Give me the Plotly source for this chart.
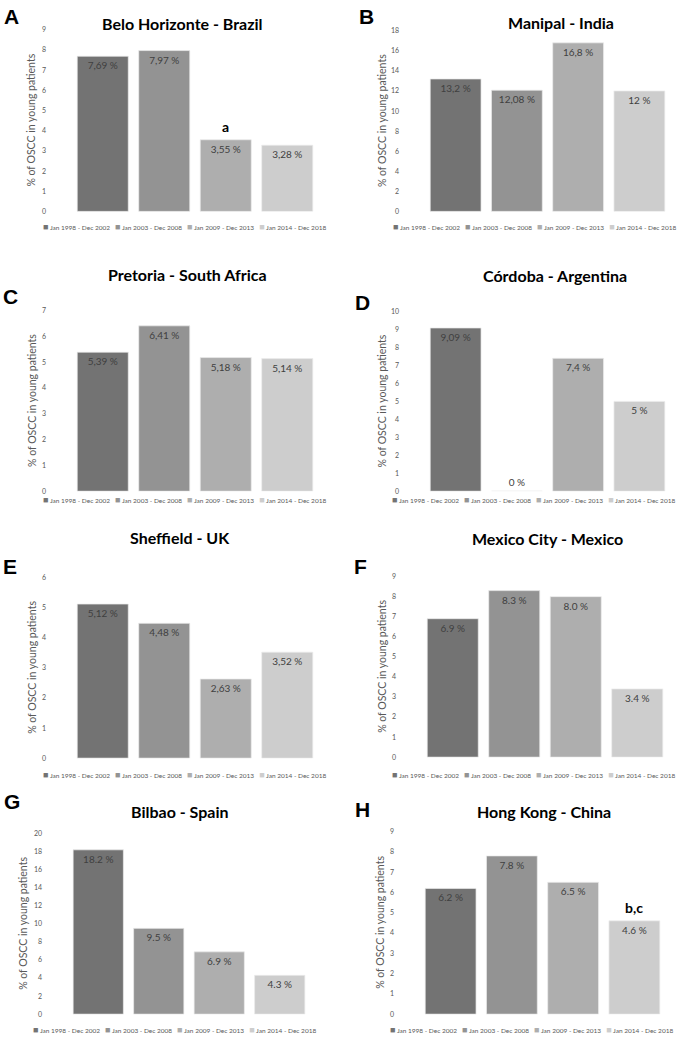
import plotly.graph_objects as go

# ---------------- data ----------------
periods = ["Jan 1998 - Dec 2002", "Jan 2003 - Dec 2008",
           "Jan 2009 - Dec 2013", "Jan 2014 - Dec 2018"]
period_colors = ["#737373", "#939393", "#aeaeae", "#cdcdcd"]

panel_letters = ["A", "B", "C", "D", "E", "F", "G", "H"]
titles = ["Belo Horizonte - Brazil", "Manipal - India",
          "Pretoria - South Africa", "Córdoba - Argentina",
          "Sheffield - UK", "Mexico City - Mexico",
          "Bilbao - Spain", "Hong Kong - China"]

belo = [7.69, 7.97, 3.55, 3.28]
manipal = [13.2, 12.08, 16.8, 12]
pretoria = [5.39, 6.41, 5.18, 5.14]
cordoba = [9.09, 0, 7.4, 5]
sheffield = [5.12, 4.48, 2.63, 3.52]
mexico = [6.9, 8.3, 8.0, 3.4]
bilbao = [18.2, 9.5, 6.9, 4.3]
hongkong = [6.2, 7.8, 6.5, 4.6]
values = [belo, manipal, pretoria, cordoba, sheffield, mexico, bilbao, hongkong]

belo_lbl = ["7,69 %", "7,97 %", "3,55 %", "3,28 %"]
manipal_lbl = ["13,2 %", "12,08 %", "16,8 %", "12 %"]
pretoria_lbl = ["5,39 %", "6,41 %", "5,18 %", "5,14 %"]
cordoba_lbl = ["9,09 %", "0 %", "7,4 %", "5 %"]
sheffield_lbl = ["5,12 %", "4,48 %", "2,63 %", "3,52 %"]
mexico_lbl = ["6.9 %", "8.3 %", "8.0 %", "3.4 %"]
bilbao_lbl = ["18.2 %", "9.5 %", "6.9 %", "4.3 %"]
hongkong_lbl = ["6.2 %", "7.8 %", "6.5 %", "4.6 %"]
labels = [belo_lbl, manipal_lbl, pretoria_lbl, cordoba_lbl,
          sheffield_lbl, mexico_lbl, bilbao_lbl, hongkong_lbl]

y_max = [9, 18, 7, 10, 6, 9, 20, 9]
y_step = [1, 2, 1, 1, 1, 1, 2, 1]

# significance marks: (panel index, period index, text)
marks = [(0, 2, "a"), (7, 3, "b,c")]

y_title = "% of OSCC in young patients"

# ---------------- layout geometry (pixels) ----------------
W, H = 680, 1038
# plot boxes: left, right, top, bottom
boxes = [(72, 318, 25, 208), (425, 670, 26, 208),
         (72, 318, 308, 490), (425, 670, 309, 490),
         (72, 318, 577, 759), (422, 668, 576, 758),
         (68, 310, 835, 1017), (420, 665, 833, 1017)]
title_pos = [(182, 19), (561, 18), (187, 272), (555, 273),
             (180, 537), (547, 538), (180, 813), (544, 813)]
letter_pos = [(11, 12), (366, 12), (10, 294), (362, 300),
              (10, 566), (360, 566), (12, 803), (362, 811)]
ytitle_x = [31, 382, 32, 382, 32, 382, 23, 380]
legend_pos = [(184, 223), (534, 223), (184, 498), (533, 498),
              (184, 775), (533, 775), (175, 1032), (531, 1032)]

FONT = "Lato, 'Liberation Sans', sans-serif"
GREY = "#595959"


def px(x):
    return x / W


def py(y):
    return 1 - y / H


fig = go.Figure()
annotations = []

for i in range(8):
    n = "" if i == 0 else str(i + 1)
    xa, ya = "x" + n, "y" + n
    vals = values[i]
    tpos = ["outside" if v == 0 else "inside" for v in vals]
    fig.add_trace(go.Bar(
        x=periods, y=vals, text=labels[i], textposition=tpos,
        insidetextanchor="end", constraintext="none", textangle=0,
        textfont=dict(family=FONT, size=10, color="#404040"),
        marker=dict(color=period_colors,
                    line=dict(color="rgba(235,235,235,0.9)", width=0.8)),
        cliponaxis=False, showlegend=False, hoverinfo="skip",
        xaxis=xa, yaxis=ya,
    ))
    l, r, t, b = boxes[i]
    fig.update_layout(**{
        "xaxis" + n: dict(domain=[px(l), px(r)], anchor=ya, type="category",
                          range=[-0.5, 3.5], showticklabels=False,
                          showgrid=False, zeroline=False, showline=False,
                          ticks=""),
        "yaxis" + n: dict(domain=[py(b), py(t)], anchor=xa,
                          range=[0, y_max[i]], dtick=y_step[i], tick0=0,
                          showgrid=False, zeroline=False, showline=False,
                          ticks="", ticklabelstandoff=25,
                          tickfont=dict(family=FONT, size=7, color=GREY)),
    })
    # title
    annotations.append(dict(text="<b>" + titles[i] + "</b>", xref="paper",
                            yref="paper", x=px(title_pos[i][0]),
                            y=py(title_pos[i][1]), showarrow=False,
                            xanchor="center", yanchor="middle",
                            font=dict(family=FONT, size=16, color="#000000")))
    # panel letter
    annotations.append(dict(text="<b>" + panel_letters[i] + "</b>",
                            xref="paper", yref="paper",
                            x=px(letter_pos[i][0]), y=py(letter_pos[i][1]),
                            showarrow=False, xanchor="center",
                            yanchor="middle",
                            font=dict(family="Liberation Sans, Arial",
                                      size=21, color="#000000")))
    # y title
    annotations.append(dict(text=y_title, xref="paper", yref="paper",
                            x=px(ytitle_x[i]), y=py((t + b) / 2),
                            textangle=-90, showarrow=False,
                            xanchor="center", yanchor="middle",
                            font=dict(family=FONT, size=10.5, color=GREY)))
    # legend line
    parts = []
    for p, c in zip(periods, period_colors):
        parts.append('<span style="color:%s;font-size:9px">■</span> %s'
                     % (c, p))
    annotations.append(dict(text="   ".join(parts), xref="paper",
                            yref="paper", x=px(legend_pos[i][0]),
                            y=py(legend_pos[i][1]), showarrow=False,
                            xanchor="center", yanchor="middle",
                            font=dict(family=FONT, size=6.5, color=GREY)))

for pi, k, txt in marks:
    n = "" if pi == 0 else str(pi + 1)
    annotations.append(dict(text="<b>" + txt + "</b>", xref="x" + n,
                            yref="y" + n, x=periods[k], y=values[pi][k],
                            showarrow=False, xanchor="center",
                            yanchor="bottom", yshift=3,
                            font=dict(family=FONT, size=14, color="#000000")))

fig.update_layout(
    width=W, height=H, margin=dict(l=0, r=0, t=0, b=0),
    paper_bgcolor="white", plot_bgcolor="white",
    barmode="overlay", bargap=0.17,
    annotations=annotations,
)

fig.write_html("out.html", config={"displayModeBar": False},
               post_script="document.body.style.margin='0';"
                           "document.body.style.overflow='hidden';")
